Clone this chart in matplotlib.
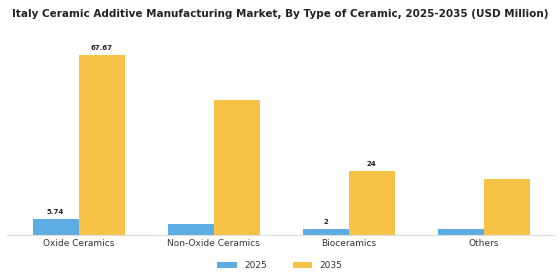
import matplotlib
matplotlib.use("Agg")
import matplotlib.pyplot as plt
import numpy as np

categories = ["Oxide Ceramics", "Non-Oxide Ceramics", "Bioceramics", "Others"]
values_2025 = [5.74, 4.1, 2.0, 2.2]
values_2035 = [67.67, 51.0, 24.0, 21.0]
labels_2025 = ["5.74", None, "2", None]
labels_2035 = ["67.67", None, "24", None]

BLUE = "#5dade2"
YELLOW = "#f8c246"
BAR_W = 0.34

fig = plt.figure(figsize=(5.6, 2.8), dpi=100)
ax = fig.add_axes([0.0125, 0.1625, 0.977, 0.69])

x = np.arange(len(categories))
ax.bar(x - BAR_W / 2, values_2025, BAR_W, color=BLUE, label="2025")
ax.bar(x + BAR_W / 2, values_2035, BAR_W, color=YELLOW, label="2035")

for i in range(len(categories)):
    if labels_2025[i]:
        ax.text(x[i] - BAR_W / 2, values_2025[i] + 1.5, labels_2025[i],
                ha="center", va="bottom", fontsize=5, fontweight="bold", color="#222222")
    if labels_2035[i]:
        ax.text(x[i] + BAR_W / 2, values_2035[i] + 1.5, labels_2035[i],
                ha="center", va="bottom", fontsize=5, fontweight="bold", color="#222222")

ax.set_xlim(-0.53, 3.52)
ax.set_ylim(0, 73)
ax.set_xticks(x)
ax.set_xticklabels(categories, fontsize=6.5, color="#333333")
ax.tick_params(axis="x", length=0, pad=3)
ax.set_yticks([])
for s in ["top", "right", "left"]:
    ax.spines[s].set_visible(False)
ax.spines["bottom"].set_color("#dddddd")
ax.spines["bottom"].set_linewidth(0.8)

fig.text(0.5, 0.95, "Italy Ceramic Additive Manufacturing Market, By Type of Ceramic, 2025-2035 (USD Million)",
         ha="center", va="center", fontsize=7.5, fontweight="bold", color="#222222")

fig.legend(loc="center", bbox_to_anchor=(0.5, 0.05), ncol=2, frameon=False,
           fontsize=6.5, handlelength=2.2, handleheight=0.6, columnspacing=2.8,
           labelcolor="#333333")

fig.savefig("out.png", dpi=100)
